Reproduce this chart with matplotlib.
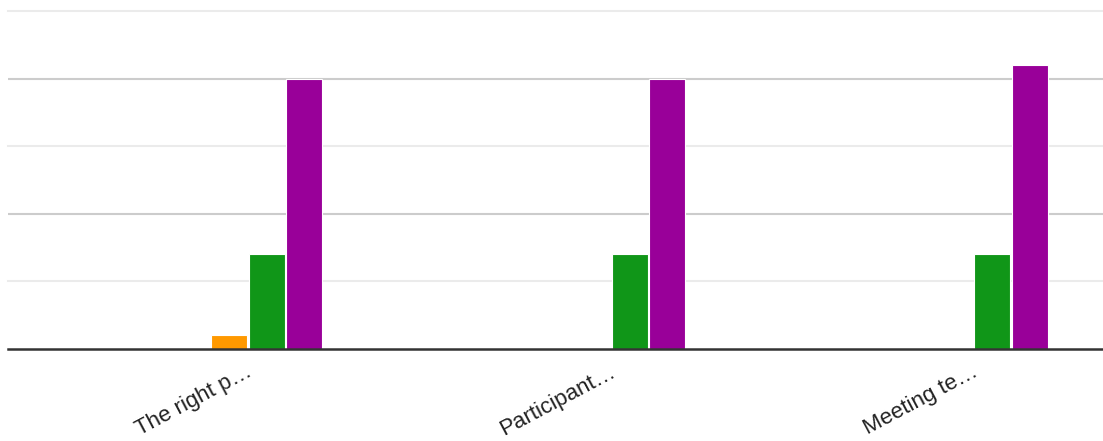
import matplotlib.pyplot as plt
import matplotlib.transforms as mtransforms
import numpy as np

plt.rcParams['font.family'] = ['Liberation Sans', 'DejaVu Sans']

# Response counts per statement
questions = ['The right p…', 'Participant…', 'Meeting te…']
series = ['Strongly disagree', 'Disagree', 'Neutral', 'Agree', 'Strongly agree']
strongly_disagree = [0, 0, 0]
disagree = [0, 0, 0]
neutral = [1, 0, 0]
agree = [7, 7, 7]
strongly_agree = [20, 20, 21]
colors = ['#3366cc', '#dc3912', '#ff9900', '#109618', '#990099']

values = [strongly_disagree, disagree, neutral, agree, strongly_agree]

fig = plt.figure(figsize=(11.03, 4.41), dpi=100)
ax = fig.add_axes([8 / 1103, (441 - 349) / 441, 1 - 8 / 1103, (349 - 11) / 441])

x = np.arange(len(questions))
step = 37.5 / 363
width = 36 / 363
for i, (vals, c) in enumerate(zip(values, colors)):
    h = np.array(vals, dtype=float)
    mask = h > 0
    ax.bar(x[mask] + (i - 2) * step, h[mask], width=width, color=c,
           edgecolor='white', linewidth=0.8, zorder=2, label=series[i])

ax.set_ylim(0, 25)
ax.set_xlim((8 - 229) / 363, (1103 - 229) / 363)

# gridlines: lighter minor lines at odd multiples of 5, darker at 10 and 20
for yv in [5, 15, 25]:
    ax.axhline(yv, color='#ebebeb', linewidth=1.5, zorder=1, clip_on=False)
for yv in [10, 20]:
    ax.axhline(yv, color='#cccccc', linewidth=1.5, zorder=1)
ax.axhline(0, color='#333333', linewidth=1.8, zorder=3, clip_on=False)

for s in ax.spines.values():
    s.set_visible(False)
ax.set_yticks([])
ax.set_xticks(x)
ax.set_xticklabels(questions, rotation=28, ha='right', rotation_mode='anchor',
                   fontsize=16, color='#222222')
ax.tick_params(axis='x', length=0, pad=9)
offset = mtransforms.ScaledTranslation(17 / 100, 0, fig.dpi_scale_trans)
for lbl in ax.get_xticklabels():
    lbl.set_transform(lbl.get_transform() + offset)

fig.savefig('out.png', dpi=100)
